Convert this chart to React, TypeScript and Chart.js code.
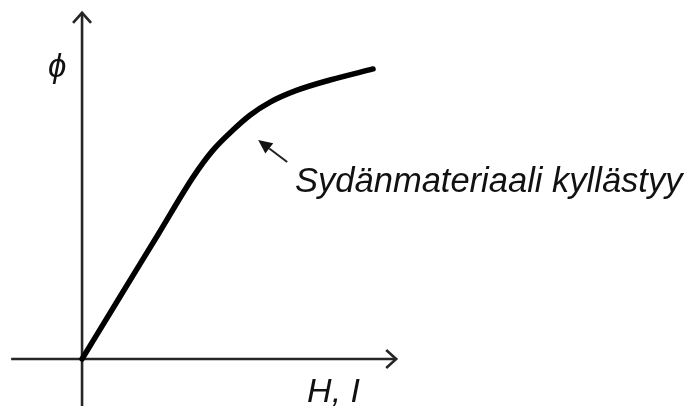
import React, { useEffect, useRef } from "react";
import { Chart, registerables } from "chart.js";

Chart.register(...registerables);

// Magnetizing field (H, I) — arbitrary units
const hValues = [0, 1.3, 2.6, 3.8, 4.47, 5.15, 5.73, 6.42, 7.34, 8.46, 9.93];
// Magnetic flux (phi) — arbitrary units
const phiValues = [0, 2.15, 4.29, 6.27, 7.18, 7.87, 8.38, 8.83, 9.24, 9.59, 9.97];

const xAxisLabel = "H, I";
const yAxisLabel = "ϕ";
const annotationText = "Sydänmateriaali kyllästyy";

// axis extents (data units)
const xAxisRange = [-2.42, 10.72];
const yAxisRange = [-1.7, 11.9];
// annotation arrow: tip then tail, and text anchor (data units)
const annotationTip = [6.01, 7.53];
const annotationTail = [7.0, 6.77];
const annotationAnchor = [7.27, 5.74];
const xLabelAnchor = [7.68, -1.48];
const yLabelAnchor = [-1.16, 9.7];

const sketchPlugin = {
  id: "sketch",
  beforeDatasetsDraw(chart: any) {
    const { ctx } = chart;
    const xs = chart.scales.x;
    const ys = chart.scales.y;
    const px = (v: number) => xs.getPixelForValue(v);
    const py = (v: number) => ys.getPixelForValue(v);
    ctx.save();
    ctx.strokeStyle = "#262626";
    ctx.lineWidth = 2.6;
    ctx.lineCap = "butt";
    const y0 = py(0);
    const x0 = px(0);
    const xEnd = px(xAxisRange[1]);
    ctx.beginPath();
    ctx.moveTo(px(xAxisRange[0]), y0);
    ctx.lineTo(xEnd, y0);
    ctx.stroke();
    ctx.lineJoin = "miter";
    ctx.beginPath();
    ctx.moveTo(xEnd - 10, y0 - 9);
    ctx.lineTo(xEnd, y0);
    ctx.lineTo(xEnd - 10, y0 + 9);
    ctx.stroke();
    const yTop = py(yAxisRange[1]);
    ctx.beginPath();
    ctx.moveTo(x0, py(yAxisRange[0]));
    ctx.lineTo(x0, yTop);
    ctx.stroke();
    ctx.beginPath();
    ctx.moveTo(x0 - 9, yTop + 10);
    ctx.lineTo(x0, yTop);
    ctx.lineTo(x0 + 9, yTop + 10);
    ctx.stroke();
    ctx.restore();
  },
  afterDatasetsDraw(chart: any) {
    const { ctx } = chart;
    const xs = chart.scales.x;
    const ys = chart.scales.y;
    const px = (v: number) => xs.getPixelForValue(v);
    const py = (v: number) => ys.getPixelForValue(v);
    ctx.save();
    const tx = px(annotationTip[0]);
    const ty = py(annotationTip[1]);
    const sx = px(annotationTail[0]);
    const sy = py(annotationTail[1]);
    const ang = Math.atan2(ty - sy, tx - sx);
    const headLen = 14;
    const headW = 6.5;
    const bx = tx - headLen * Math.cos(ang);
    const by = ty - headLen * Math.sin(ang);
    ctx.strokeStyle = "#222";
    ctx.fillStyle = "#111";
    ctx.lineWidth = 2;
    ctx.beginPath();
    ctx.moveTo(sx, sy);
    ctx.lineTo(bx, by);
    ctx.stroke();
    ctx.beginPath();
    ctx.moveTo(tx, ty);
    ctx.lineTo(bx + headW * Math.sin(ang), by - headW * Math.cos(ang));
    ctx.lineTo(bx - headW * Math.sin(ang), by + headW * Math.cos(ang));
    ctx.closePath();
    ctx.fill();
    ctx.fillStyle = "#111";
    ctx.textBaseline = "alphabetic";
    ctx.textAlign = "left";
    ctx.font = "italic 34.5px 'Liberation Sans', Arial, sans-serif";
    ctx.fillText(annotationText, px(annotationAnchor[0]), py(annotationAnchor[1]));
    ctx.font = "italic 34px 'Liberation Sans', Arial, sans-serif";
    ctx.fillText(xAxisLabel, px(xLabelAnchor[0]), py(xLabelAnchor[1]));
    ctx.font = "italic 33px 'Liberation Sans', Arial, sans-serif";
    ctx.fillText(yAxisLabel, px(yLabelAnchor[0]), py(yLabelAnchor[1]));
    ctx.restore();
  },
};

export default function App() {
  const ref = useRef<HTMLCanvasElement>(null);
  useEffect(() => {
    if (!ref.current) return;
    const chart = new Chart(ref.current, {
      type: "line",
      data: {
        datasets: [
          {
            data: hValues.map((h, i) => ({ x: h, y: phiValues[i] })),
            borderColor: "#000",
            borderWidth: 5.5,
            borderCapStyle: "round",
            borderJoinStyle: "round",
            pointRadius: 0,
            cubicInterpolationMode: "monotone",
            fill: false,
          },
        ],
      },
      options: {
        responsive: false,
        animation: false,
        layout: { padding: 0 },
        plugins: { legend: { display: false }, tooltip: { enabled: false } },
        scales: {
          x: { type: "linear", display: false, min: -2.8, max: 20.61 },
          y: { type: "linear", display: false, min: -1.615, max: 12.34 },
        },
      },
      plugins: [sketchPlugin],
    });
    return () => chart.destroy();
  }, []);
  return (
    <div style={{ position: "absolute", left: 0, top: 0, width: 686, height: 406, background: "#fff" }}>
      <canvas ref={ref} width={686} height={406} style={{ display: "block" }} />
    </div>
  );
}
